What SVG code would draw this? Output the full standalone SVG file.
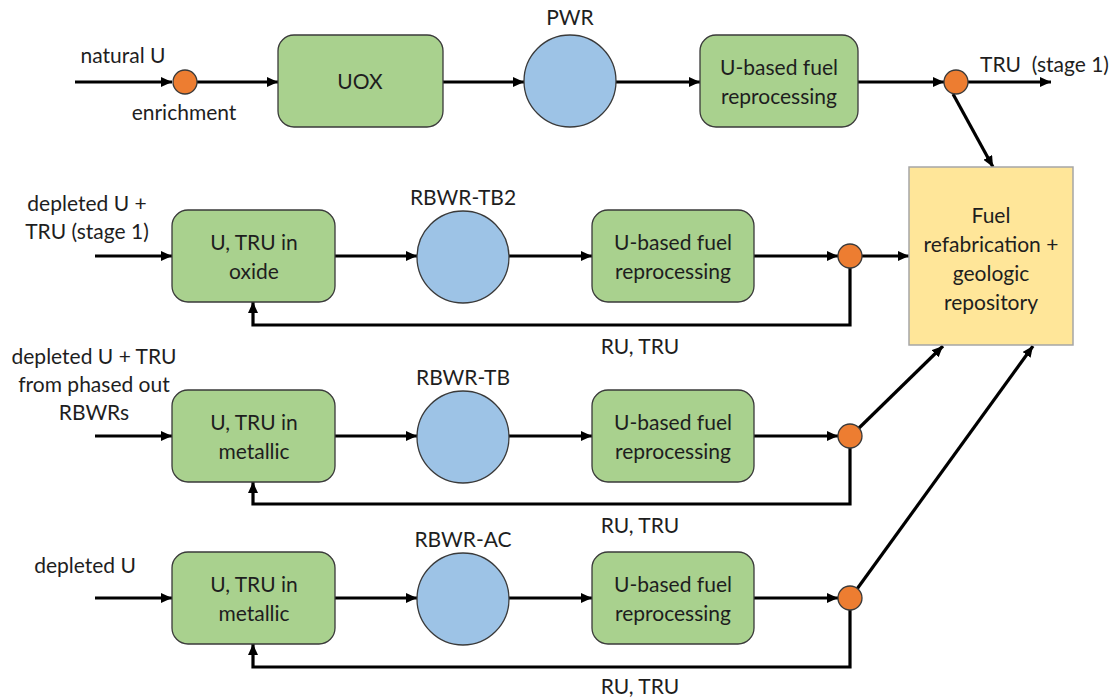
<svg xmlns="http://www.w3.org/2000/svg" width="1115" height="700" viewBox="0 0 1115 700">
  <defs>
    <marker id="arrow" markerUnits="userSpaceOnUse" markerWidth="12" markerHeight="10" refX="11" refY="5" orient="auto">
      <path d="M0,0 L11,5 L0,10 z" fill="#000"/>
    </marker>
    <style>
      text { font-family: Lato, "Liberation Sans", sans-serif; font-size: 21px; fill: #1e1e1e; }
      .c { text-anchor: middle; }
      .proc { fill: #a9d18e; stroke: #3a3a3a; stroke-width: 1.3; }
      .reactor { fill: #9dc3e6; stroke: #3a3a3a; stroke-width: 1.3; }
      .node { fill: #ed7d31; stroke: #3a3a3a; stroke-width: 1.3; }
      .store { fill: #ffe699; stroke: #a6a6a6; stroke-width: 1.5; }
      .flow { fill: none; stroke: #000; stroke-width: 3.2; }
      .head { marker-end: url(#arrow); }
    </style>
  </defs>
  <rect width="1115" height="700" fill="#fff"/>

  <!-- flows between stages -->
  <g id="connectors">
    <!-- once-through PWR line -->
    <path class="flow head" d="M75,82 H172"/>
    <path class="flow head" d="M197,82 H278"/>
    <path class="flow head" d="M443,82 H524"/>
    <path class="flow head" d="M616,82 H700"/>
    <path class="flow head" d="M858,82 H944"/>
    <path class="flow head" d="M968,82 H1051"/>
    <path class="flow head" d="M953,94 L993,167"/>
    <!-- RBWR-TB2 line -->
    <path class="flow head" d="M95,256 H172"/>
    <path class="flow head" d="M335,256 H417"/>
    <path class="flow head" d="M509,256 H592"/>
    <path class="flow head" d="M754,256 H838"/>
    <path class="flow head" d="M862,256 H909"/>
    <path class="flow head" d="M850,268 V325 H253 V302"/>
    <!-- RBWR-TB line -->
    <path class="flow head" d="M95,436 H172"/>
    <path class="flow head" d="M335,436 H417"/>
    <path class="flow head" d="M509,436 H592"/>
    <path class="flow head" d="M754,436 H838"/>
    <path class="flow head" d="M859,428 L943,346"/>
    <path class="flow head" d="M850,448 V504 H253 V482"/>
    <!-- RBWR-AC line -->
    <path class="flow head" d="M95,598 H172"/>
    <path class="flow head" d="M335,598 H417"/>
    <path class="flow head" d="M509,598 H592"/>
    <path class="flow head" d="M754,598 H838"/>
    <path class="flow head" d="M857,589 L1033,346"/>
    <path class="flow head" d="M850,610 V667 H253 V644"/>
  </g>

  <!-- row 1: PWR once-through -->
  <g id="enrichment">
    <circle class="node" cx="185" cy="82" r="12"/>
    <text class="c" x="123" y="63">natural U</text>
    <text class="c" x="184" y="120">enrichment</text>
  </g>
  <g id="uox">
    <rect class="proc" x="278" y="35" width="165" height="92" rx="16"/>
    <text class="c" x="360" y="89">UOX</text>
  </g>
  <g id="pwr">
    <circle class="reactor" cx="570" cy="81" r="46"/>
    <text class="c" x="570" y="25">PWR</text>
  </g>
  <g id="reproc-pwr">
    <rect class="proc" x="700" y="35" width="158" height="92" rx="16"/>
    <text class="c" x="779" y="75">U-based fuel</text>
    <text class="c" x="779" y="104">reprocessing</text>
  </g>
  <g id="split-pwr">
    <circle class="node" cx="956" cy="82" r="12"/>
    <text x="980" y="72">TRU&#160; (stage 1)</text>
  </g>

  <!-- shared back end -->
  <g id="repository">
    <rect class="store" x="909" y="167" width="164" height="178"/>
    <text class="c" x="991" y="223">Fuel</text>
    <text class="c" x="991" y="252">refabrication +</text>
    <text class="c" x="991" y="281">geologic</text>
    <text class="c" x="991" y="310">repository</text>
  </g>

  <!-- row 2: RBWR-TB2 -->
  <g id="feed-tb2">
    <text class="c" x="87" y="211">depleted U +</text>
    <text class="c" x="87" y="239">TRU (stage 1)</text>
  </g>
  <g id="fuel-tb2">
    <rect class="proc" x="172" y="210" width="163" height="92" rx="16"/>
    <text class="c" x="254" y="250">U, TRU in</text>
    <text class="c" x="254" y="279">oxide</text>
  </g>
  <g id="rbwr-tb2">
    <circle class="reactor" cx="463" cy="257" r="46"/>
    <text class="c" x="463" y="205">RBWR-TB2</text>
  </g>
  <g id="reproc-tb2">
    <rect class="proc" x="592" y="210" width="162" height="92" rx="16"/>
    <text class="c" x="673" y="250">U-based fuel</text>
    <text class="c" x="673" y="279">reprocessing</text>
  </g>
  <g id="split-tb2">
    <circle class="node" cx="850" cy="256" r="12"/>
    <text class="c" x="640" y="354">RU, TRU</text>
  </g>

  <!-- row 3: RBWR-TB -->
  <g id="feed-tb">
    <text class="c" x="94" y="364">depleted U + TRU</text>
    <text class="c" x="94" y="392">from phased out</text>
    <text class="c" x="94" y="420">RBWRs</text>
  </g>
  <g id="fuel-tb">
    <rect class="proc" x="172" y="390" width="163" height="92" rx="16"/>
    <text class="c" x="254" y="430">U, TRU in</text>
    <text class="c" x="254" y="459">metallic</text>
  </g>
  <g id="rbwr-tb">
    <circle class="reactor" cx="463" cy="437" r="46"/>
    <text class="c" x="463" y="385">RBWR-TB</text>
  </g>
  <g id="reproc-tb">
    <rect class="proc" x="592" y="390" width="162" height="92" rx="16"/>
    <text class="c" x="673" y="430">U-based fuel</text>
    <text class="c" x="673" y="459">reprocessing</text>
  </g>
  <g id="split-tb">
    <circle class="node" cx="850" cy="436" r="12"/>
    <text class="c" x="640" y="533">RU, TRU</text>
  </g>

  <!-- row 4: RBWR-AC -->
  <g id="feed-ac">
    <text class="c" x="85" y="573">depleted U</text>
  </g>
  <g id="fuel-ac">
    <rect class="proc" x="172" y="552" width="163" height="92" rx="16"/>
    <text class="c" x="254" y="592">U, TRU in</text>
    <text class="c" x="254" y="621">metallic</text>
  </g>
  <g id="rbwr-ac">
    <circle class="reactor" cx="463" cy="599" r="46"/>
    <text class="c" x="463" y="547">RBWR-AC</text>
  </g>
  <g id="reproc-ac">
    <rect class="proc" x="592" y="552" width="162" height="92" rx="16"/>
    <text class="c" x="673" y="592">U-based fuel</text>
    <text class="c" x="673" y="621">reprocessing</text>
  </g>
  <g id="split-ac">
    <circle class="node" cx="850" cy="598" r="12"/>
    <text class="c" x="640" y="694">RU, TRU</text>
  </g>
</svg>
